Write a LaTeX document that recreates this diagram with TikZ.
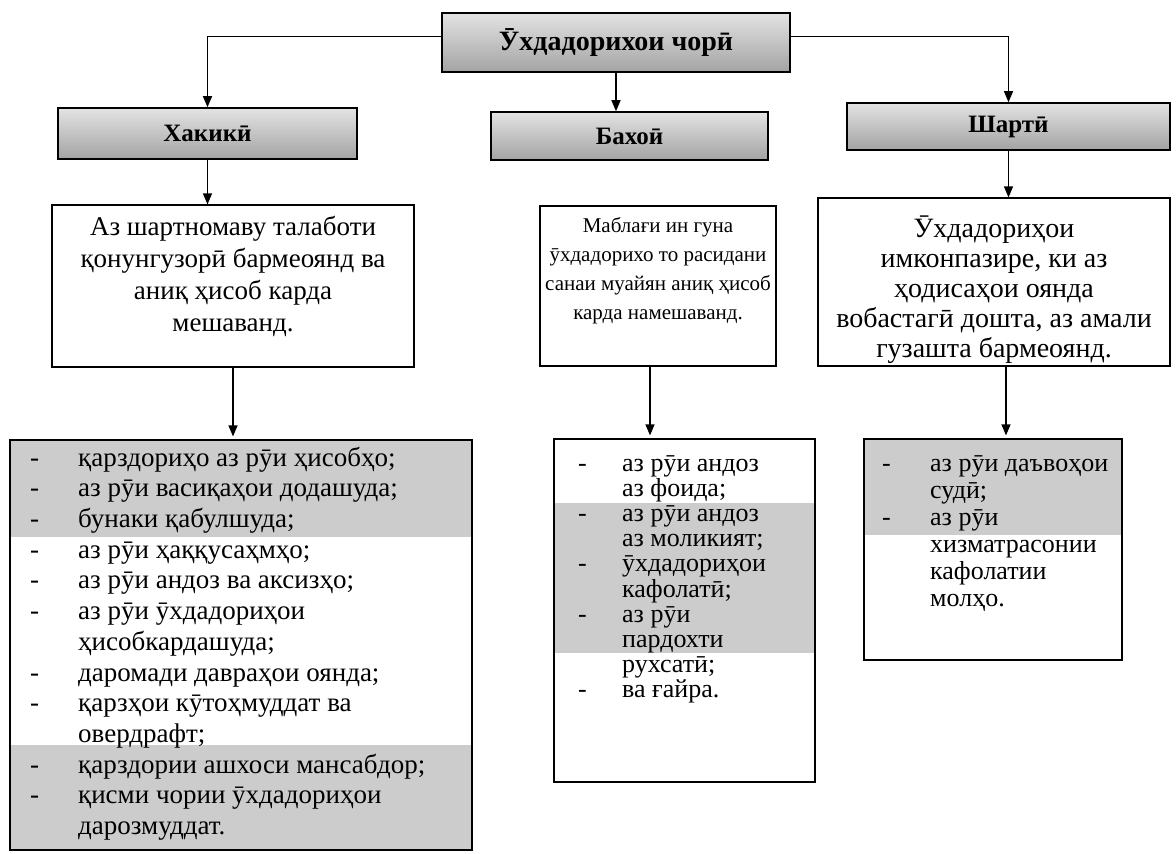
\documentclass[tikz,border=0pt]{standalone}
\usepackage{fontspec}
\setmainfont{Liberation Serif}
\usetikzlibrary{arrows.meta}

\begin{document}
\begin{tikzpicture}[x=1pt,y=-1pt,
  head/.style={draw,line width=1.6pt,top color=gray!22,bottom color=gray!72,font=\bfseries\fontsize{25}{30}\selectfont},
  box/.style={draw,line width=1.2pt},
  txt/.style={align=center},
  lst/.style={anchor=north west},
  band/.style={fill=gray!40},
  arr/.style={line width=1.2pt,-{Triangle[length=11pt,width=9pt]}}]
\tikzstyle{every node}+=[inner sep=0pt]
\useasboundingbox (0,0) rectangle (1176,854);

\node[head,minimum width=348,minimum height=59,font=\bfseries\fontsize{28}{32}\selectfont] (root) at (616,42.5) {Ӯхдадорихои чорӣ};
\node[head,minimum width=299,minimum height=51] (hak) at (207.5,133.5) {Хакикӣ};
\node[head,minimum width=277,minimum height=48] (bah) at (629.5,136) {Бахоӣ};
\node[head,minimum width=323,minimum height=47] (shart) at (1008.5,126.5) {Шартӣ};

\node[box,minimum width=362,minimum height=162] (t1) at (233,286) {};
\node[txt,font=\fontsize{27}{32}\selectfont] (t1txt) at (233,276) {Аз шартномаву талаботи\\қонунгузорӣ бармеоянд ва\\аниқ ҳисоб карда\\мешаванд.};
\node[box,minimum width=236,minimum height=160] (t2) at (658,286) {};
\node[txt,font=\fontsize{21}{29}\selectfont] (t2txt) at (658,271) {Маблағи ин гуна\\ӯхдадорихо то расидани\\санаи муайян аниқ ҳисоб\\карда намешаванд.};
\node[box,minimum width=352,minimum height=168] (t3) at (994,282) {};
\node[txt,font=\fontsize{28}{30}\selectfont] (t3txt) at (994,290) {Ӯхдадориҳои\\имконпазире, ки аз\\ҳодисаҳои оянда\\вобастагӣ дошта, аз амали\\гузашта бармеоянд.};

\fill[band] (10,440) rectangle (472,537);
\fill[band] (10,745) rectangle (472,850);
\node[box,minimum width=462,minimum height=410] (l1) at (241,645) {};
\node[lst,font=\fontsize{27}{30.7}\selectfont] (l1txt) at (30,444.5) {\begin{tabular}{@{}p{48pt}@{}l@{}}
-&қарздориҳо аз рӯи ҳисобҳо;\\
-&аз рӯи васиқаҳои додашуда;\\
-&бунаки қабулшуда;\\
-&аз рӯи ҳаққусаҳмҳо;\\
-&аз рӯи андоз ва аксизҳо;\\
-&аз рӯи ӯхдадориҳои\\
&ҳисобкардашуда;\\
-&даромади давраҳои оянда;\\
-&қарзҳои кӯтоҳмуддат ва\\
&овердрафт;\\
-&қарздории ашхоси мансабдор;\\
-&қисми чории ӯхдадориҳои\\
&дарозмуддат.
\end{tabular}};

\fill[band] (554,503) rectangle (815,653);
\node[box,minimum width=261,minimum height=343] (l2) at (684.5,610.5) {};
\node[lst,font=\fontsize{26}{25}\selectfont] (l2txt) at (578,453.5) {\begin{tabular}{@{}p{44pt}@{}l@{}}
-&аз рӯи андоз\\
&аз фоида;\\
-&аз рӯи андоз\\
&аз моликият;\\
-&ӯхдадориҳои\\
&кафолатӣ;\\
-&аз рӯи\\
&пардохти\\
&рухсатӣ;\\
-&ва ғайра.
\end{tabular}};

\fill[band] (864,439) rectangle (1122,535);
\node[box,minimum width=258,minimum height=221] (l3) at (993,549.5) {};
\node[lst,font=\fontsize{26}{27}\selectfont] (l3txt) at (882,452) {\begin{tabular}{@{}p{48pt}@{}l@{}}
-&аз рӯи даъвоҳои\\
&судӣ;\\
-&аз рӯи\\
&хизматрасонии\\
&кафолатии\\
&молҳо.
\end{tabular}};

\coordinate (t2out) at ([xshift=-8pt]t2.south);
\coordinate (t3out) at ([xshift=12pt]t3.south);
\draw[arr] ([yshift=6pt]root.west) -| (hak.north);
\draw[arr] (root.south) -- (root.south |- bah.north);
\draw[arr] ([yshift=6pt]root.east) -| (shart.north);
\draw[arr] (hak.south) -- (hak.south |- t1.north);
\draw[arr] (shart.south) -- (shart.south |- t3.north);
\draw[arr,shorten >=3pt] (t1.south) -- (t1.south |- l1.north);
\draw[arr,shorten >=3pt] (t2out) -- (t2out |- l2.north);
\draw[arr,shorten >=3pt] (t3out) -- (t3out |- l3.north);
\end{tikzpicture}
\end{document}
